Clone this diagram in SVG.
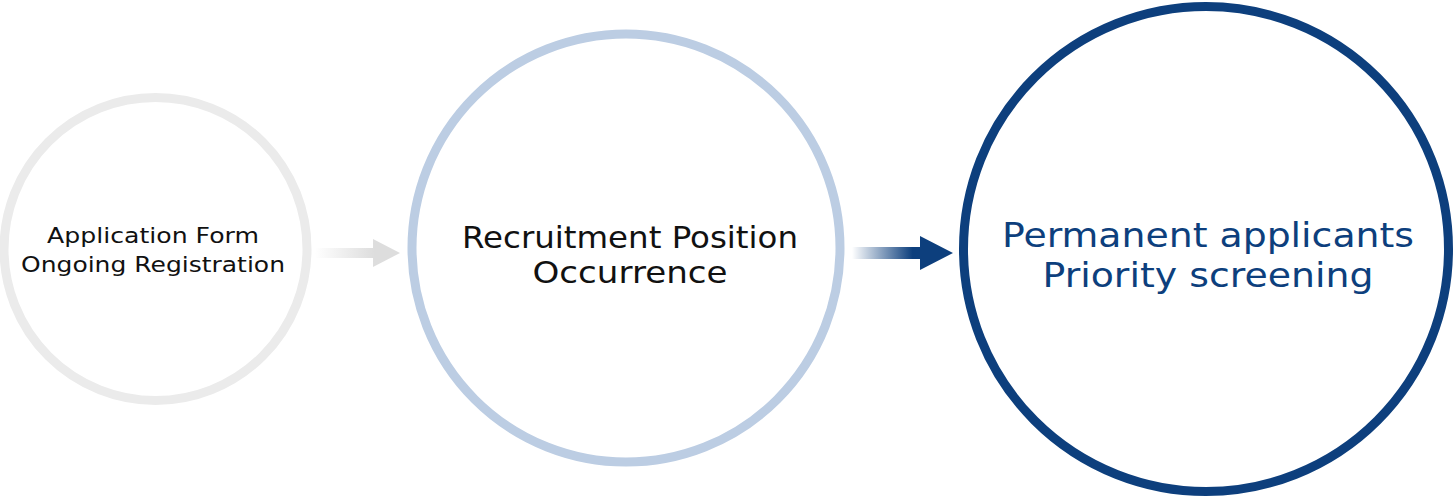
<svg xmlns="http://www.w3.org/2000/svg" width="1453" height="498" viewBox="0 0 1453 498">
<style>
.ring{fill:#ffffff}
.t{font-family:"DejaVu Sans","Noto Sans","Liberation Sans",sans-serif;text-anchor:middle}
.t1{font-size:22px;fill:#111111}
.t2{font-size:31px;fill:#111111}
.t3{font-size:33px;fill:#0d3f7d}
</style>
<defs>
<linearGradient id="gGray" x1="315" y1="0" x2="400" y2="0" gradientUnits="userSpaceOnUse">
<stop offset="0" stop-color="#dddddd" stop-opacity="0"/>
<stop offset="0.7" stop-color="#dddddd"/>
<stop offset="1" stop-color="#dddddd"/>
</linearGradient>
<linearGradient id="gBlue" x1="852" y1="0" x2="953" y2="0" gradientUnits="userSpaceOnUse">
<stop offset="0" stop-color="#0d3f7d" stop-opacity="0"/>
<stop offset="0.6" stop-color="#0d3f7d"/>
<stop offset="1" stop-color="#0d3f7d"/>
</linearGradient>
</defs>
<g id="connectors">
<path d="M315,248 H373 V239 L400,253 L373,267 V258 H315 Z" fill="url(#gGray)"/>
<path d="M852,247 H920 V236 L953,253 L920,270 V259 H852 Z" fill="url(#gBlue)"/>
</g>
<g id="node1">
<circle class="ring" cx="155.5" cy="249" r="151.5" stroke="#ebebeb" stroke-width="9"/>
<text class="t t1" x="153" y="243" textLength="212" lengthAdjust="spacingAndGlyphs">Application Form</text>
<text class="t t1" x="153" y="272" textLength="264" lengthAdjust="spacingAndGlyphs">Ongoing Registration</text>
</g>
<g id="node2">
<circle class="ring" cx="626" cy="248" r="214" stroke="#bccde3" stroke-width="9"/>
<text class="t t2" x="630" y="248" textLength="336" lengthAdjust="spacingAndGlyphs">Recruitment Position</text>
<text class="t t2" x="630" y="283" textLength="195" lengthAdjust="spacingAndGlyphs">Occurrence</text>
</g>
<g id="node3">
<circle class="ring" cx="1206" cy="249" r="242.5" stroke="#0d3f7d" stroke-width="9"/>
<text class="t t3" x="1208" y="247" textLength="412" lengthAdjust="spacingAndGlyphs">Permanent applicants</text>
<text class="t t3" x="1208" y="287" textLength="331" lengthAdjust="spacingAndGlyphs">Priority screening</text>
</g>
</svg>
